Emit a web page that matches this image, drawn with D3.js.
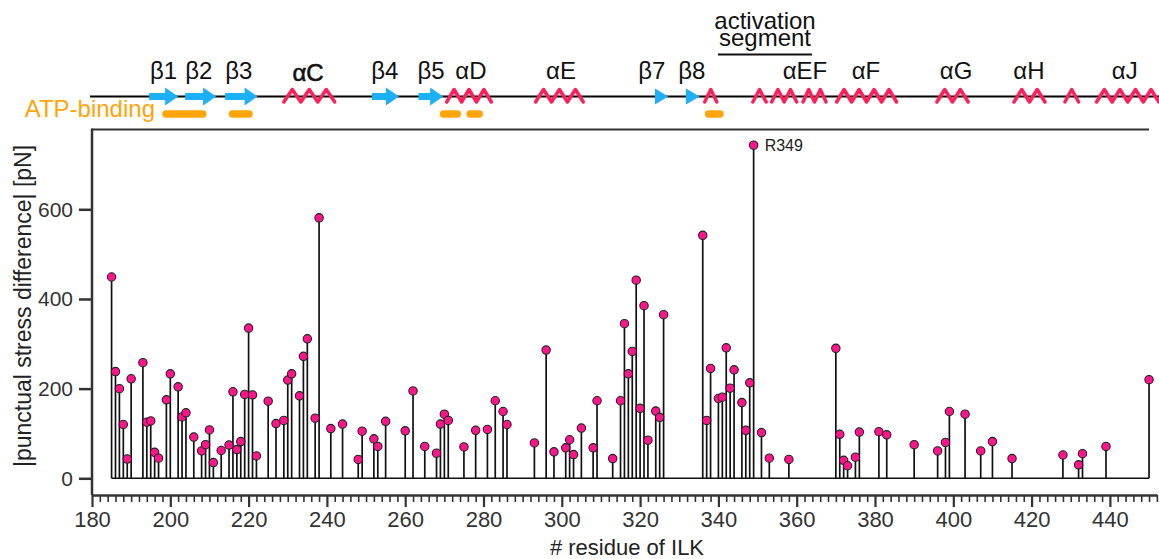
<!DOCTYPE html>
<html>
<head>
<meta charset="utf-8">
<script src="https://cdn.jsdelivr.net/npm/d3@7"></script>
<style>
  html, body { margin: 0; padding: 0; background: #fff; }
  svg { display: block; font-family: "Liberation Sans", Arial, Helvetica, sans-serif; }
</style>
</head>
<body>
<svg id="chart" width="1159" height="559"></svg>
<script>
// ---------- data ----------
const residues = [185,186,187,188,189,190,193,194,195,196,197,199,200,202,203,204,206,208,209,210,
  211,213,215,216,217,218,219,220,221,222,225,227,229,230,231,233,234,235,237,238,
  241,244,248,249,252,253,255,260,262,265,268,269,270,271,275,278,281,283,285,286,
  293,296,298,301,302,303,305,308,309,313,315,316,317,318,319,320,321,322,324,325,
  326,336,337,338,340,341,342,343,344,346,347,348,349,351,353,358,370,371,372,373,
  375,376,381,383,390,396,398,399,403,407,410,415,428,432,433,439,450];
const stressDiff = [449,238,200,120,43,222,258,125,128,58,45,175,233,204,137,146,92,61,75,108,
  35,62,74,193,64,82,187,335,186,50,172,122,129,219,233,184,272,311,134,581,
  111,121,42,105,88,71,127,106,195,71,56,121,143,129,70,107,109,173,149,120,
  79,286,59,68,86,53,112,68,173,44,173,345,233,283,442,156,385,85,150,136,
  365,542,129,245,178,181,291,201,242,169,107,213,743,102,45,42,290,98,40,28,
  47,103,104,97,75,61,80,149,143,61,82,44,52,30,55,71,220];
const xTickLabels = [180,200,220,240,260,280,300,320,340,360,380,400,420,440];
const yTickLabels = [0,200,400,600];
const highlightResidue = 349;
const highlightLabel = "R349";

// secondary structure (residue ranges)
const strandRanges = [[194.6,202],[203.8,211.7],[214,222.3],[251.5,258.4],[263.4,269.7]];
const strandHeads = [[323.8,327.2],[331.7,335.2]];
const helixRanges = [[229,242],[270.6,282],[293.3,305.5],[336.5,339.6],[348.8,352.2],[353.6,360],
  [361.6,367.5],[370.2,385.5],[395.8,403.8],[415.5,423.4],[428.5,432],[436.6,452.5]];
const helixTurns = [3,3,3,1,1,2,2,4,2,2,1,4];
const atpRanges = [[198,209.2],[215,221],[268.9,274.2],[275.7,279.8],[336.6,341.3]];
const ssLabels = ["β1","β2","β3","αC","β4","β5","αD","αE","β7","β8","αEF","αF","αG","αH","αJ"];
const ssLabelRes = [198.3,207.3,217.5,235.2,254.8,266.6,276.8,299.8,323.0,333.2,362.1,377.7,400.7,419.3,443.8];
const activationRange = [339.9,363.9];
const activationText = ["activation", "segment"];

// ---------- layout ----------
const svg = d3.select("#chart");
const x = d3.scaleLinear().domain([180, 452]).range([92, 92 + 272 * 3.915]);
const y = d3.scaleLinear().domain([0, 600]).range([478.3, 209.3]);
const plotTop = 129.5, xAxisY = 495;
const dark = "#333";

// top frame line and left axis line
svg.append("line").attr("x1", 92).attr("x2", x(450)).attr("y1", plotTop).attr("y2", plotTop)
  .attr("stroke", dark).attr("stroke-width", 2);
svg.append("line").attr("x1", 92).attr("x2", 92).attr("y1", plotTop - 1).attr("y2", xAxisY)
  .attr("stroke", dark).attr("stroke-width", 2.5);

// y axis ticks
const yAxis = svg.append("g").attr("transform", "translate(92,0)")
  .call(d3.axisLeft(y).tickValues(yTickLabels).tickSize(13).tickPadding(6).tickSizeOuter(0));
yAxis.select(".domain").remove();
yAxis.selectAll(".tick line").attr("stroke", dark).attr("stroke-width", 2.5);
yAxis.selectAll(".tick text").attr("font-size", 21).attr("fill", dark)
  .attr("font-family", "Liberation Sans, Arial, sans-serif");

// x axis
const minorTicks = d3.range(180, 453, 2).filter(v => v % 20 !== 0);
const xMinor = svg.append("g").attr("transform", `translate(0,${xAxisY})`)
  .call(d3.axisBottom(x).tickValues(minorTicks).tickSize(7).tickFormat("").tickSizeOuter(0));
xMinor.select(".domain").remove();
xMinor.selectAll(".tick line").attr("stroke", dark).attr("stroke-width", 1.6);
const xAxis = svg.append("g").attr("transform", `translate(0,${xAxisY})`)
  .call(d3.axisBottom(x).tickValues(xTickLabels).tickSize(12).tickPadding(4).tickSizeOuter(0));
xAxis.select(".domain").attr("stroke", dark).attr("stroke-width", 2.5);
xAxis.selectAll(".tick line").attr("stroke", dark).attr("stroke-width", 2.2);
xAxis.selectAll(".tick text").attr("font-size", 22).attr("fill", dark)
  .attr("font-family", "Liberation Sans, Arial, sans-serif");

// axis titles
svg.append("text").attr("x", 627).attr("y", 555).attr("text-anchor", "middle")
  .attr("font-size", 22).attr("fill", "#222").text("# residue of ILK");
svg.append("text").attr("transform", "translate(31,306) rotate(-90)").attr("text-anchor", "middle")
  .attr("font-size", 23).attr("fill", "#222").text("|punctual stress difference| [pN]");

// baseline
svg.append("line").attr("x1", x(residues[0])).attr("x2", x(residues[residues.length - 1]))
  .attr("y1", y(0)).attr("y2", y(0)).attr("stroke", "#111").attr("stroke-width", 1.6);

const data = residues.map((r, i) => ({ r, v: stressDiff[i] }));
svg.append("g").selectAll("line").data(data).join("line")
  .attr("x1", d => x(d.r)).attr("x2", d => x(d.r))
  .attr("y1", y(0)).attr("y2", d => y(d.v))
  .attr("stroke", "#111").attr("stroke-width", 1.7);
svg.append("g").selectAll("circle").data(data).join("circle")
  .attr("cx", d => x(d.r)).attr("cy", d => y(d.v)).attr("r", 4.2)
  .attr("fill", "#FF148C").attr("stroke", "#222").attr("stroke-width", 1.1);

const hl = data.find(d => d.r === highlightResidue);
svg.append("text").attr("x", x(hl.r) + 11).attr("y", y(hl.v) + 6)
  .attr("font-size", 16).attr("fill", "#222").text(highlightLabel);

// ---------- secondary structure band ----------
const ssY = 96.5;
svg.append("line").attr("x1", 90).attr("x2", 1159).attr("y1", ssY).attr("y2", ssY)
  .attr("stroke", "#000").attr("stroke-width", 2);

const blue = "#1CB0F6", pink = "#FF1F5A", orange = "#FFA50A";
// helices as zigzags
helixRanges.forEach((rg, i) => {
  const x0 = x(rg[0]), x1 = x(rg[1]), n = helixTurns[i];
  const step = (x1 - x0) / (2 * n);
  const pts = [];
  for (let k = 0; k <= 2 * n; k++) pts.push([x0 + k * step, k % 2 === 0 ? 102 : 89.5]);
  svg.append("path").attr("d", d3.line()(pts)).attr("fill", "none")
    .attr("stroke", pink).attr("stroke-width", 3.5).attr("stroke-linejoin", "round")
    .attr("stroke-linecap", "round");
});
// strands as arrows
strandRanges.forEach(rg => {
  const x0 = x(rg[0]), x1 = x(rg[1]), hx = x1 - 13;
  svg.append("path").attr("d",
    `M${x0},${ssY - 3.5}L${hx},${ssY - 3.5}L${hx},${ssY - 9}L${x1},${ssY}L${hx},${ssY + 9}L${hx},${ssY + 3.5}L${x0},${ssY + 3.5}Z`)
    .attr("fill", blue);
});
strandHeads.forEach(rg => {
  const x0 = x(rg[0]), x1 = x(rg[1]);
  svg.append("path").attr("d", `M${x0},${ssY - 8}L${x1},${ssY}L${x0},${ssY + 8}Z`).attr("fill", blue);
});
// ATP-binding bars
atpRanges.forEach(rg => {
  svg.append("line").attr("x1", x(rg[0]) + 3.5).attr("x2", x(rg[1]) - 3.5)
    .attr("y1", 114).attr("y2", 114).attr("stroke", orange).attr("stroke-width", 7.5)
    .attr("stroke-linecap", "round");
});
svg.append("text").attr("x", 155).attr("y", 117).attr("text-anchor", "end")
  .attr("font-size", 24).attr("fill", orange).text("ATP-binding");

// labels
svg.append("g").selectAll("text").data(ssLabels).join("text")
  .attr("x", (d, i) => x(ssLabelRes[i])).attr("y", (d, i) => d === "αC" ? 81 : 79)
  .attr("text-anchor", "middle").attr("font-size", 24).attr("fill", "#111")
  .attr("stroke", (d) => d === "αC" ? "#111" : "none").attr("stroke-width", 0.6)
  .text(d => d);

// activation segment (one text block, two lines)
const actMid = x((activationRange[0] + activationRange[1]) / 2);
const actText = svg.append("text").attr("text-anchor", "middle")
  .attr("font-size", 24).attr("fill", "#111");
actText.selectAll("tspan").data(activationText).join("tspan")
  .attr("x", actMid).attr("y", (d, i) => i === 0 ? 29 : 46).text(d => d);
svg.append("line").attr("x1", x(activationRange[0])).attr("x2", x(activationRange[1]))
  .attr("y1", 54.5).attr("y2", 54.5).attr("stroke", "#111").attr("stroke-width", 1.8);
</script>
</body>
</html>
